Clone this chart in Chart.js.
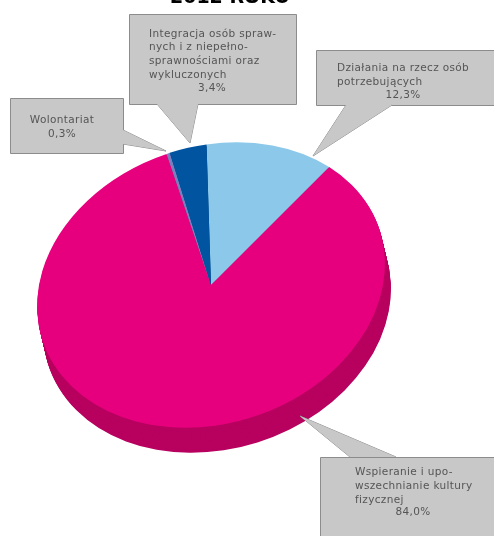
<!DOCTYPE html>
<html>
<head>
<meta charset="utf-8">
<style>
  html, body { margin: 0; padding: 0; background: #fff; }
  #wrap { position: relative; width: 494px; height: 536px; overflow: hidden; }
</style>
<script src="https://cdn.jsdelivr.net/npm/chart.js@4"></script>
</head>
<body>
<div id="wrap"><canvas id="chart"></canvas></div>
<script>
const categories = ['Działania na rzecz osób potrzebujących', 'Wspieranie i upowszechnianie kultury fizycznej', 'Wolontariat', 'Integracja osób sprawnych i z niepełnosprawnościami oraz wykluczonych'];
const values = [12.3, 84.0, 0.3, 3.4];
const sliceColors = ['#8cc8ea', '#e6007e', '#7a7fc0', '#0054a0'];
const wallColors = ['#6a9ab5', '#b8005f', '#5a5f90', '#003f78'];

const TITLE = '2012 ROKU';

// callout boxes: rectangle, pointer (base, tip, base), text lines
const callouts = [
  { box: [129, 14, 167, 90], ptr: [[157, 104], [190, 143], [198, 104]],
    lines: [['Integracja osób spraw-', 149, 37], ['nych i z niepełno-', 149, 50], ['sprawnościami oraz', 149, 64], ['wykluczonych', 149, 78], ['3,4%', 212, 91, 'center']] },
  { box: [10, 98, 113, 55], ptr: [[123, 130], [166, 151], [123, 144]],
    lines: [['Wolontariat', 62, 123, 'center'], ['0,3%', 62, 137, 'center']] },
  { box: [316, 50, 180, 55], ptr: [[346, 105], [313, 156], [392, 105]],
    lines: [['Działania na rzecz osób', 337, 71], ['potrzebujących', 337, 85], ['12,3%', 403, 98, 'center']] },
  { box: [320, 457, 176, 81], ptr: [[350, 457], [300, 416], [396, 457]],
    lines: [['Wspieranie i upo-', 355, 475], ['wszechnianie kultury', 355, 489], ['fizycznej', 355, 503], ['84,0%', 413, 515, 'center']] },
];

// squash + shear that turns the round pie into the tilted disc
const TILT = { sy: 0.83, shear: -0.15 };
const DEPTH = { x: 6, y: 25 };

function tilt(ctx, cx, cy, dx, dy) {
  ctx.translate(cx + dx, cy + dy);
  ctx.transform(1, 0, TILT.shear, TILT.sy, 0, 0);
  ctx.translate(-cx, -cy);
}

const discPlugin = {
  id: 'disc',
  beforeDatasetsDraw(chart) {
    const { ctx } = chart;
    const arcs = chart.getDatasetMeta(0).data;
    const cx = arcs[0].x, cy = arcs[0].y;
    // side wall: the slices repeated downwards in a darker colour
    for (let d = DEPTH.y; d > 0; d--) {
      arcs.forEach((a, i) => {
        ctx.save();
        tilt(ctx, cx, cy, DEPTH.x * d / DEPTH.y, d);
        ctx.fillStyle = wallColors[i];
        ctx.beginPath();
        ctx.moveTo(cx, cy);
        ctx.arc(cx, cy, a.outerRadius, a.startAngle, a.endAngle);
        ctx.closePath();
        ctx.fill();
        ctx.restore();
      });
    }
    ctx.save();
    tilt(ctx, cx, cy, 0, 0);
  },
  afterDatasetsDraw(chart) {
    chart.ctx.restore();
  },
  afterDraw(chart) {
    const { ctx } = chart;
    ctx.save();
    ctx.font = 'bold 19px "DejaVu Sans"';
    ctx.fillStyle = '#000';
    ctx.textAlign = 'center';
    ctx.fillText(TITLE, 230, 3);
    callouts.forEach(c => {
      const [x, y, w, h] = c.box;
      ctx.fillStyle = '#c8c8c8';
      ctx.strokeStyle = '#8c8c8c';
      ctx.lineWidth = 1;
      ctx.beginPath();
      ctx.rect(x + 0.5, y + 0.5, w, h);
      ctx.fill();
      ctx.stroke();
      ctx.beginPath();
      ctx.moveTo(c.ptr[0][0], c.ptr[0][1]);
      ctx.lineTo(c.ptr[1][0], c.ptr[1][1]);
      ctx.lineTo(c.ptr[2][0], c.ptr[2][1]);
      ctx.fill();
      ctx.stroke();
      // cover the box edge under the pointer base
      ctx.beginPath();
      ctx.moveTo(c.ptr[0][0], c.ptr[0][1]);
      ctx.lineTo(c.ptr[1][0], c.ptr[1][1]);
      ctx.lineTo(c.ptr[2][0], c.ptr[2][1]);
      ctx.closePath();
      ctx.fill();
      ctx.fillStyle = '#555';
      ctx.font = '10.5px "DejaVu Sans"';
      ctx.letterSpacing = '0.35px';
      c.lines.forEach(l => {
        ctx.textAlign = l[3] || 'left';
        ctx.fillText(l[0], l[1], l[2]);
      });
      ctx.letterSpacing = '0px';
    });
    ctx.restore();
  }
};

new Chart(document.getElementById('chart'), {
  type: 'pie',
  data: {
    labels: categories,
    datasets: [{ data: values, backgroundColor: sliceColors, borderWidth: 0 }]
  },
  options: {
    responsive: true,
    maintainAspectRatio: false,
    animation: false,
    rotation: -10,
    layout: { padding: { left: 39, right: 111, top: 113, bottom: 79 } },
    plugins: { legend: { display: false }, tooltip: { enabled: false } }
  },
  plugins: [discPlugin]
});
</script>
</body>
</html>
